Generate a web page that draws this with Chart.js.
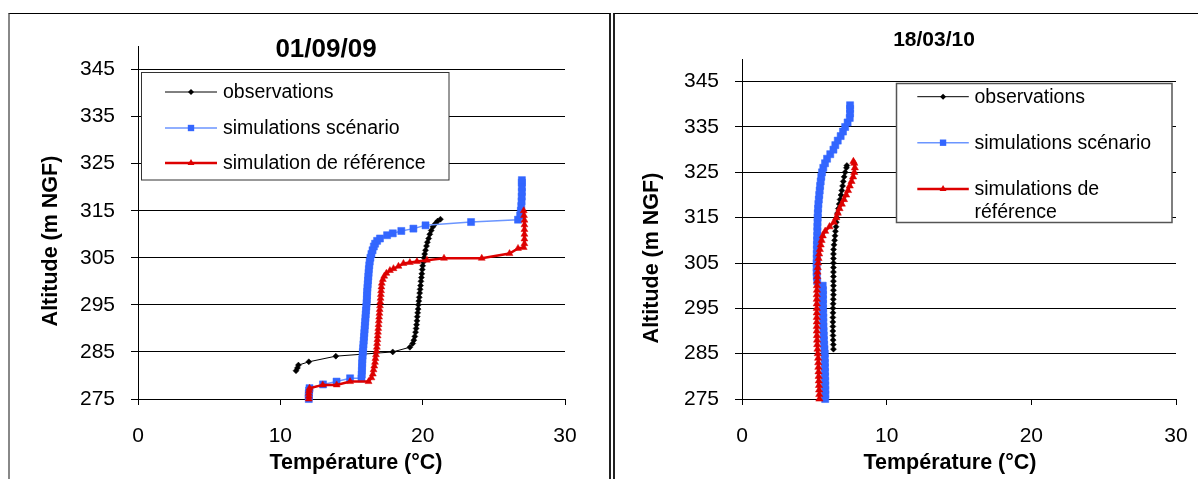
<!DOCTYPE html>
<html>
<head>
<meta charset="utf-8">
<script src="https://cdn.jsdelivr.net/npm/chart.js@4.4.1/dist/chart.umd.min.js"></script>
<style>
html,body{margin:0;padding:0;background:#fff;width:1198px;height:479px;overflow:hidden;position:relative;}
#c1{position:absolute;left:0;top:0;}
#c2{position:absolute;left:612px;top:0;}
.frame{position:absolute;pointer-events:none;box-sizing:content-box;}
#f1{left:8px;top:13px;width:599px;height:480px;border-top:1px solid #000;border-left:2px solid #888;border-right:2px solid #222;}
#f2{left:613px;top:13px;width:600px;height:480px;border-top:1px solid #000;border-left:2px solid #222;}
</style>
</head>
<body>
<canvas id="c1" width="612" height="479"></canvas>
<canvas id="c2" width="600" height="479"></canvas>
<div class="frame" id="f1"></div>
<div class="frame" id="f2"></div>
<script>
// ---- tick labels / texts ----
const xTicks = [0, 10, 20, 30];
const yTicks = [275, 285, 295, 305, 315, 325, 335, 345];
const titles = ['01/09/09', '18/03/10'];
const xAxisTitle = 'Température (°C)';
const yAxisTitle = 'Altitude (m NGF)';
const labels1 = ['observations', 'simulations scénario', 'simulation de référence'];
const labels2 = ['observations', 'simulations scénario', 'simulations de référence'];

// ---- 01/09/09 : [température, altitude] ----
const obs1 = [[11.1,281.0],[11.2,281.6],[11.27,282.2],[12.0,282.9],[13.9,284.1],[17.9,285.0],[19.1,286.0],[19.3,286.8],[19.38,287.5],[19.45,288.3],
  [19.5,289.2],[19.54,290.0],[19.57,290.8],[19.6,291.6],[19.62,292.5],[19.65,293.3],[19.68,294.1],[19.7,295.0],[19.73,295.8],[19.76,296.6],
  [19.79,297.5],[19.82,298.3],[19.85,299.1],[19.88,300.0],[19.91,300.8],[19.94,301.6],[19.97,302.5],[20.0,303.3],[20.05,304.1],[20.1,305.0],
  [20.14,305.8],[20.2,306.6],[20.27,307.5],[20.33,308.3],[20.42,309.1],[20.5,310.0],[20.6,310.8],[20.72,311.6],[20.9,312.3],[21.05,312.8],[21.25,313.2]];
const scen1 = [[12.0,275.0],[12.0,275.6],[12.0,276.2],[12.02,276.8],[12.05,277.3],[13.0,278.1],[13.95,278.7],[14.9,279.4],[15.7,279.4],[15.72,280.2],
  [15.73,281.0],[15.74,281.8],[15.75,282.6],[15.76,283.4],[15.78,284.2],[15.8,285.0],[15.82,285.8],[15.84,286.6],[15.86,287.4],[15.88,288.2],
  [15.9,289.0],[15.92,289.8],[15.94,290.6],[15.96,291.4],[15.98,292.2],[16.0,293.0],[16.02,293.8],[16.04,294.6],[16.06,295.4],[16.08,296.2],
  [16.09,297.0],[16.1,297.8],[16.12,298.6],[16.14,299.4],[16.16,300.2],[16.18,301.0],[16.2,301.8],[16.22,302.6],[16.25,303.4],[16.28,304.2],
  [16.33,305.0],[16.4,305.8],[16.48,306.6],[16.57,307.4],[16.66,308.0],[16.8,308.6],[17.0,309.1],[17.5,309.8],[17.9,310.2],[18.5,310.7],
  [19.35,311.2],[20.2,311.9],[23.4,312.6],[26.7,313.1],[26.85,314.0],[26.9,315.0],[26.93,316.0],[26.95,317.0],[26.96,318.0],[26.97,319.0],
  [26.97,320.0],[26.97,321.0],[26.97,321.5]];
const ref1 = [[12.0,275.0],[12.0,275.6],[12.0,276.2],[12.02,276.8],[12.05,277.3],[12.98,278.0],[13.96,278.0],[14.9,278.7],[16.2,278.7],[16.4,279.5],
  [16.5,280.3],[16.55,281.2],[16.6,282.0],[16.65,282.8],[16.68,283.6],[16.72,284.4],[16.76,285.2],[16.78,286.0],[16.8,286.8],[16.82,287.6],
  [16.84,288.4],[16.86,289.2],[16.88,290.0],[16.9,290.8],[16.92,291.6],[16.94,292.4],[16.96,293.2],[16.98,294.0],[17.0,294.8],[17.02,295.6],
  [17.04,296.4],[17.06,297.2],[17.08,298.0],[17.1,298.8],[17.13,299.6],[17.2,300.4],[17.3,301.1],[17.45,301.7],[17.7,302.3],[17.95,302.7],
  [18.3,303.2],[18.65,303.8],[19.1,304.0],[19.6,304.2],[20.3,304.5],[21.5,304.9],[24.15,304.9],[26.1,305.9],[26.7,307.0],[27.1,307.2],
  [27.15,308.0],[27.15,309.0],[27.15,310.0],[27.15,311.0],[27.15,312.0],[27.15,313.0],[27.12,314.0],[27.1,315.0]];

// ---- 18/03/10 : [température, altitude] ----
const obs2 = [[6.32,286],[6.31,287],[6.3,288],[6.29,289],[6.28,290],[6.28,291],[6.28,292],[6.28,293],[6.29,294],[6.29,295],
  [6.3,296],[6.31,297],[6.32,298],[6.32,299],[6.32,300],[6.32,301],[6.32,302],[6.32,303],[6.32,304],[6.32,305],
  [6.32,306],[6.32,307],[6.33,308],[6.36,309],[6.4,310],[6.43,311],[6.46,312],[6.5,313],[6.52,314],[6.55,315],
  [6.6,316],[6.66,317],[6.72,318],[6.78,319],[6.84,320],[6.9,321],[6.95,322],[7.0,323],[7.06,324],[7.13,325],[7.22,326],[7.25,326.5]];
const scen2 = [[5.75,275],[5.76,276],[5.76,277],[5.75,278],[5.75,279],[5.74,280],[5.74,281],[5.73,282],[5.73,283],[5.72,284],
  [5.72,285],[5.7,286],[5.68,287],[5.66,288],[5.65,289],[5.64,290],[5.63,291],[5.62,292],[5.62,293],[5.61,294],
  [5.6,295],[5.6,296],[5.6,297],[5.6,298],[5.6,299],[5.58,300],[5.2,301],[5.17,302],[5.16,303],[5.16,304],
  [5.16,305],[5.17,306],[5.17,307],[5.18,308],[5.18,309],[5.19,310],[5.2,311],[5.21,312],[5.21,313],[5.22,314],
  [5.23,315],[5.24,316],[5.26,317],[5.28,318],[5.31,319],[5.34,320],[5.37,321],[5.4,322],[5.44,323],[5.48,324],
  [5.53,325],[5.62,326],[5.74,327],[5.88,328],[6.1,329],[6.32,330],[6.45,331],[6.62,332],[6.82,333],[6.98,334],
  [7.13,335],[7.3,336],[7.45,337],[7.47,338],[7.47,339],[7.47,339.8]];
const ref2 = [[5.35,275],[5.34,276],[5.33,277],[5.32,278],[5.31,279],[5.3,280],[5.29,281],[5.28,282],[5.27,283],[5.26,284],
  [5.24,285],[5.22,286],[5.2,287],[5.19,288],[5.18,289],[5.17,290],[5.17,291],[5.17,292],[5.17,293],[5.17,294],
  [5.17,295],[5.17,296],[5.17,297],[5.17,298],[5.18,299],[5.18,300],[5.19,301],[5.2,302],[5.22,303],[5.24,304],
  [5.26,305],[5.29,306],[5.33,307],[5.38,308],[5.44,309],[5.5,310],[5.58,311],[5.75,312],[6.05,313],[6.35,314],
  [6.52,315],[6.62,316],[6.74,317],[6.9,318],[7.05,319],[7.2,320],[7.33,321],[7.45,322],[7.57,323],[7.68,324],
  [7.76,325],[7.8,326],[7.76,327],[7.7,327.4]];

const FONT = "'Liberation Sans', Arial, Helvetica, sans-serif";
Chart.defaults.font.family = FONT;
Chart.defaults.color = '#000';

function toPts(arr) { return arr.map(([x, y]) => ({x, y})); }

function marker(ctx, style, x, y, r) {
  ctx.beginPath();
  if (style === 'rectRot') {
    ctx.moveTo(x, y - r); ctx.lineTo(x + r, y); ctx.lineTo(x, y + r); ctx.lineTo(x - r, y);
  } else if (style === 'rect') {
    const s = r * Math.SQRT1_2;
    ctx.rect(x - s, y - s, 2 * s, 2 * s);
  } else if (style === 'triangle') {
    ctx.moveTo(x, y - r);
    ctx.lineTo(x + r * 0.866, y + r * 0.5);
    ctx.lineTo(x - r * 0.866, y + r * 0.5);
  }
  ctx.closePath();
  ctx.fill();
}

const annotPlugin = {
  id: 'annot',
  afterDraw(chart, args, o) {
    const ctx = chart.ctx;
    ctx.save();
    ctx.fillStyle = '#000';
    ctx.textAlign = 'center';
    ctx.textBaseline = 'alphabetic';
    // chart title
    ctx.font = 'bold ' + o.titleSize + 'px ' + FONT;
    ctx.fillText(o.title, o.titlePos[0], o.titlePos[1] + 0.358 * o.titleSize);
    // axis titles
    ctx.font = 'bold ' + o.axisSize + 'px ' + FONT;
    ctx.fillText(xAxisTitle, o.xTitlePos[0], o.xTitlePos[1] + 0.358 * o.axisSize);
    ctx.save();
    ctx.translate(o.yTitlePos[0], o.yTitlePos[1]);
    ctx.rotate(-Math.PI / 2);
    ctx.fillText(yAxisTitle, 0, 0.358 * o.axisSize);
    ctx.restore();
    // legend box
    const b = o.legendBox;
    ctx.fillStyle = '#fff';
    ctx.fillRect(b[0], b[1], b[2], b[3]);
    ctx.strokeStyle = o.legendBorder;
    ctx.lineWidth = o.legendBorderWidth;
    ctx.strokeRect(b[0], b[1], b[2], b[3]);
    ctx.font = o.legendSize + 'px ' + FONT;
    ctx.textAlign = 'left';
    const maxW = b[0] + b[2] - o.textX - 4;
    chart.data.datasets.forEach((ds, i) => {
      const y = o.rowY[i];
      ctx.strokeStyle = ds.borderColor;
      ctx.lineWidth = ds.borderWidth;
      ctx.beginPath();
      ctx.moveTo(o.sampleX[0], y); ctx.lineTo(o.sampleX[1], y);
      ctx.stroke();
      ctx.fillStyle = ds.pointBackgroundColor;
      marker(ctx, ds.pointStyle, (o.sampleX[0] + o.sampleX[1]) / 2, y, o.legendMarker[i]);
      // wrap label
      const words = ds.label.split(' ');
      const lines = [];
      let cur = '';
      words.forEach(w => {
        const t = cur ? cur + ' ' + w : w;
        if (cur && ctx.measureText(t).width > maxW) { lines.push(cur); cur = w; } else { cur = t; }
      });
      lines.push(cur);
      ctx.fillStyle = '#000';
      lines.forEach((ln, k) => {
        ctx.fillText(ln, o.textX, y + k * o.lineGap + 0.3 * o.legendSize);
      });
    });
    ctx.restore();
  }
};

function makeDatasets(obs, scen, ref, labels, r) {
  return [
    {label: labels[0], data: toPts(obs), showLine: true, borderColor: '#000', borderWidth: 1,
     pointStyle: 'rectRot', pointRadius: r[0], pointHoverRadius: r[0], pointBackgroundColor: '#000', pointBorderColor: '#000', pointBorderWidth: 0.5,
     order: 3, clip: false, tension: 0},
    {label: labels[1], data: toPts(scen), showLine: true, borderColor: '#6b95ff', borderWidth: 1.5,
     pointStyle: 'rect', pointRadius: r[1], pointHoverRadius: r[1], pointBackgroundColor: '#3366ff', pointBorderColor: '#3366ff', pointBorderWidth: 0.5,
     order: 2, clip: false, tension: 0},
    {label: labels[2], data: toPts(ref), showLine: true, borderColor: '#dd0000', borderWidth: 2.5,
     pointStyle: 'triangle', pointRadius: r[2], pointHoverRadius: r[2], pointBackgroundColor: '#dd0000', pointBorderColor: '#dd0000', pointBorderWidth: 0.5,
     order: 1, clip: false, tension: 0}
  ];
}

function makeOptions(cfg) {
  return {
    responsive: false, animation: false, devicePixelRatio: 1,
    events: [],
    layout: {padding: {left: 0, right: cfg.padRight, top: cfg.padTop, bottom: 0}},
    plugins: {legend: {display: false}, tooltip: {enabled: false}, title: {display: false}, annot: cfg.annot},
    scales: {
      x: {type: 'linear', position: 'bottom', min: 0, max: 30,
        afterBuildTicks: s => { s.ticks = xTicks.map(v => ({value: v})); },
        afterFit: s => { s.height = 80; },
        grid: {drawOnChartArea: false, drawTicks: true, tickLength: 6, color: '#000', tickColor: '#000'},
        border: {display: true, color: '#000', width: 1},
        ticks: {color: '#000', font: {size: 21}, padding: 19, maxRotation: 0, autoSkip: false}},
      y: {type: 'linear', min: 275, max: 350,
        afterBuildTicks: s => { s.ticks = yTicks.map(v => ({value: v})); },
        afterFit: s => { s.width = cfg.yWidth; },
        grid: {color: '#000', tickColor: '#000', tickLength: 7, lineWidth: 1},
        border: {display: true, color: '#000', width: 1},
        ticks: {color: '#000', font: {size: 21}, padding: 16, autoSkip: false}}
    }
  };
}

new Chart(document.getElementById('c1'), {
  type: 'scatter',
  data: {datasets: makeDatasets(obs1, scen1, ref1, labels1, [3, 5, 4])},
  options: makeOptions({
    padRight: 47, padTop: 46, yWidth: 138,
    annot: {
      title: titles[0], titleSize: 26, titlePos: [326, 48],
      axisSize: 21.5, xTitlePos: [356, 461.5], yTitlePos: [49.5, 241],
      legendBox: [141.5, 72.5, 307.5, 107.5], legendBorder: '#333', legendBorderWidth: 1,
      legendSize: 19.5, rowY: [92, 128, 163], lineGap: 22.7,
      sampleX: [165, 217], textX: 223, legendMarker: [3, 4.5, 4]
    }
  }),
  plugins: [annotPlugin]
});

new Chart(document.getElementById('c2'), {
  type: 'scatter',
  data: {datasets: makeDatasets(obs2, scen2, ref2, labels2, [3, 5, 4.2])},
  options: makeOptions({
    padRight: 36, padTop: 59, yWidth: 130,
    annot: {
      title: titles[1], titleSize: 21, titlePos: [322, 38.7],
      axisSize: 21.5, xTitlePos: [338, 461], yTitlePos: [38.7, 258],
      legendBox: [284.5, 83.5, 275.5, 139], legendBorder: '#555', legendBorderWidth: 1.5,
      legendSize: 19.5, rowY: [96.7, 142.7, 189], lineGap: 22.7,
      sampleX: [305.3, 356.8], textX: 362.5, legendMarker: [3, 4.5, 4]
    }
  }),
  plugins: [annotPlugin]
});
</script>
</body>
</html>
